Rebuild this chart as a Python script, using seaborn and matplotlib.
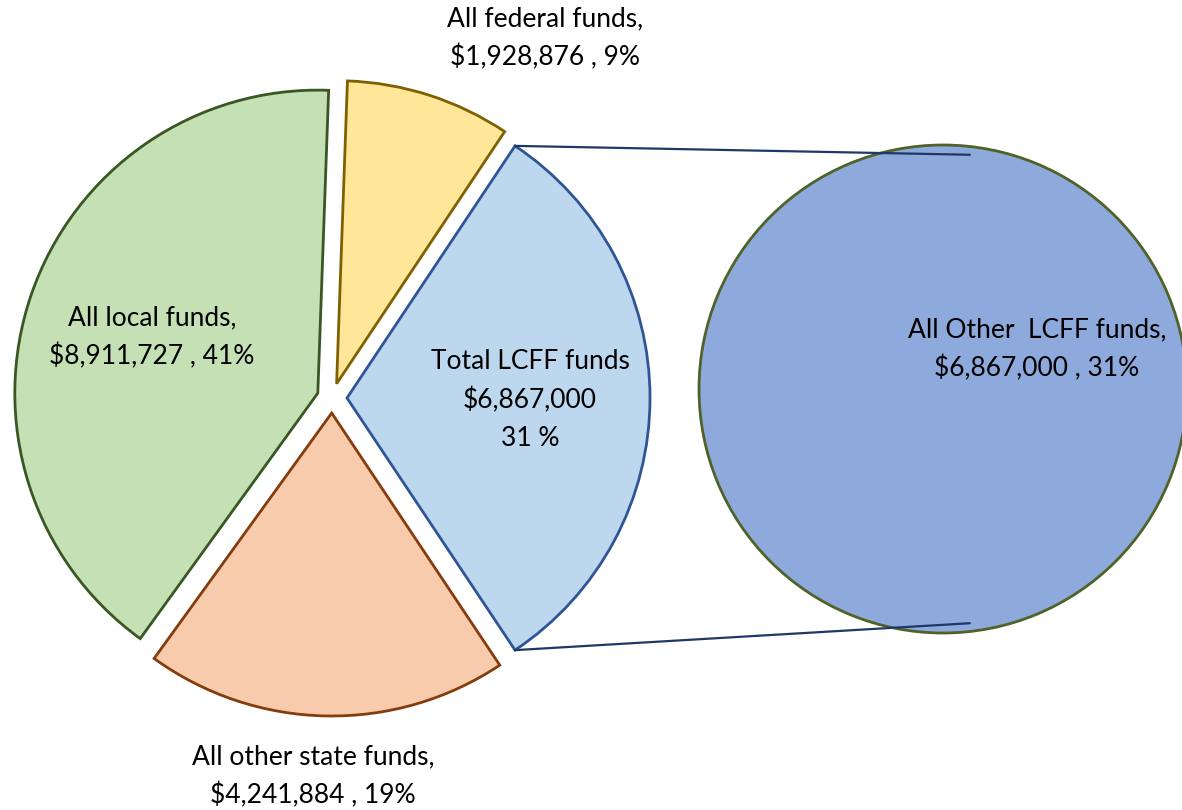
import numpy as np
import pandas as pd
import seaborn as sns
import matplotlib
matplotlib.use("Agg")
import matplotlib.pyplot as plt

# funding sources, in the order they go round the main pie (counter-clockwise from the right)
sources = ['Total LCFF funds', 'All federal funds', 'All local funds', 'All other state funds']
amounts = [6867000, 1928876, 8911727, 4241884]
fills = ['#BDD7EE', '#FFE699', '#C5E0B4', '#F8CBAD']
edges = ['#2F5597', '#7F6000', '#385723', '#843C0C']

# breakdown of the LCFF slice
lcff_parts = ['All Other  LCFF funds']
lcff_amounts = [6867000]

df = pd.DataFrame({'source': sources, 'amount': amounts})
df['pct'] = (df['amount'] / df['amount'].sum() * 100).round().astype(int)

sns.set_style('white')
plt.rcParams['font.family'] = ['Lato', 'DejaVu Sans']

fig = plt.figure(figsize=(11.82, 8.10), dpi=100)
ax = fig.add_axes([0, 0, 1, 1])

main_center = (332, 412)
main_r = 303
lcff_share = df['amount'][0] / df['amount'].sum()
start = -lcff_share * 180

# explode is in data units here (pixels)
wedges, _ = ax.pie(df['amount'], colors=fills, startangle=start, counterclock=True,
                   explode=[15] * 4, radius=main_r, center=main_center,
                   wedgeprops=dict(linewidth=2), frame=True)
for w, ec in zip(wedges, edges):
    w.set_edgecolor(ec)

# second pie (just one slice)
sec_center = (943, 421)
sec_r = 244
sec_w, _ = ax.pie(lcff_amounts, colors=['#8EA9DB'], startangle=90, radius=sec_r,
                  center=sec_center, wedgeprops=dict(linewidth=2, edgecolor='#4F6228'),
                  frame=True)

ax.set_xlim(0, 1182)
ax.set_ylim(0, 810)
ax.set_aspect('equal')
ax.axis('off')

# connector lines from the LCFF slice to the second pie
w0 = wedges[0]
cx, cy = w0.center
for ang, sgn in [(w0.theta2, 1), (w0.theta1, -1)]:
    x0 = cx + w0.r * np.cos(np.radians(ang))
    y0 = cy + w0.r * np.sin(np.radians(ang))
    x1 = sec_center[0] + 0.11 * sec_r
    y1 = sec_center[1] + sgn * 0.96 * sec_r
    ax.plot([x0, x1], [y0, y1], color='#1F3864', linewidth=1.6)

fs = 19
ls = 1.62
amt = [f"${a:,}" for a in df['amount']]
pct = df['pct'].tolist()
txt = dict(ha='center', va='center', fontsize=fs, linespacing=ls, color='black')

ax.text(545, 772, f"{sources[1]},\n{amt[1]} , {pct[1]}%", **txt)
ax.text(152, 473, f"{sources[2]},\n{amt[2]} , {pct[2]}%", **txt)
ax.text(530, 410, f"{sources[0]}\n{amt[0]}\n{pct[0]} %", **txt)
ax.text(313, 34, f"{sources[3]},\n{amt[3]} , {pct[3]}%", **txt)
ax.text(1037, 461, f"{lcff_parts[0]},\n${lcff_amounts[0]:,} , {pct[0]}%", **txt)

fig.savefig('out.png', dpi=100)
